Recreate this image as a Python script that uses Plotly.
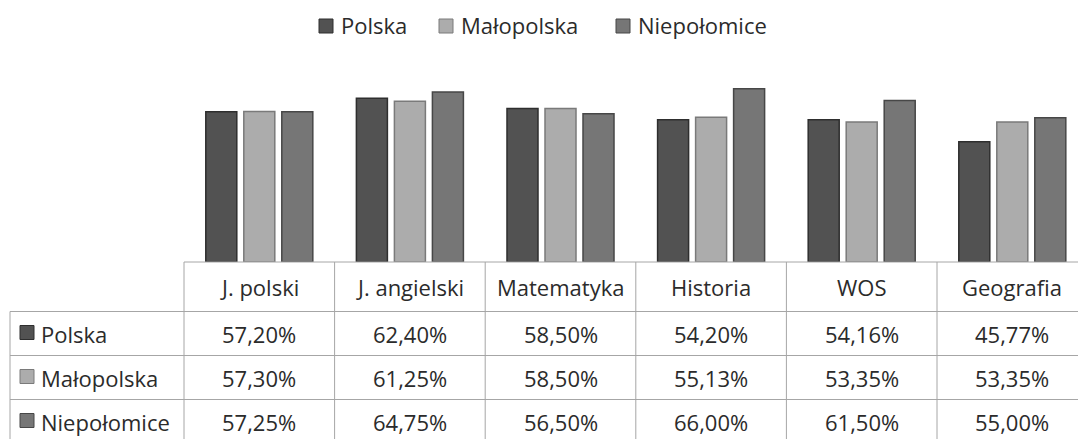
import plotly.graph_objects as go

# ---------------- data ----------------
categories = ["J. polski", "J. angielski", "Matematyka", "Historia", "WOS", "Geografia"]
series_names = ["Polska", "Małopolska", "Niepołomice"]
polska = [57.20, 62.40, 58.50, 54.20, 54.16, 45.77]
malopolska = [57.30, 61.25, 58.50, 55.13, 53.35, 53.35]
niepolomice = [57.25, 64.75, 56.50, 66.00, 61.50, 55.00]
series_values = [polska, malopolska, niepolomice]

# ---------------- styles ----------------
fill_colors = ["#525252", "#acacac", "#767676"]
edge_colors = ["#2e2e2e", "#7a7a7a", "#474747"]
grid_color = "#a6a6a6"
text_color = "#2b2b2b"
FONT = "Open Sans"
FS = 22

W, H = 1078, 439
ML, MR, MT, MB = 184, 0, 40, 177
col_px = 150.6
plot_w = W - ML - MR
plot_h = H - MT - MB
x0 = -0.5
x1 = x0 + plot_w / col_px
px_per_unit = 2.625
ymax = plot_h / px_per_unit


def px_x(px):
    return (px - ML) / plot_w


def px_y(py):
    return (H - MB - py) / plot_h


def data_x(v):
    return (v - x0) / (x1 - x0)


def fmt(v):
    return f"{v:.2f}".replace(".", ",") + "%"


fig = go.Figure()
for name, vals, fc, ec in zip(series_names, series_values, fill_colors, edge_colors):
    fig.add_trace(go.Bar(
        x=categories, y=vals, name=name,
        marker=dict(color=fc, line=dict(color=ec, width=1.5)),
        showlegend=False, hoverinfo="skip",
    ))

shapes = []
annotations = []

# table geometry (pixels)
top_px = H - MB          # axis baseline / table top
header_bottom = 311.5
row_h = 44
row_lines = [header_bottom + i * row_h for i in range(4)]
table_bottom = row_lines[-1]
left_px = 10

line = dict(color=grid_color, width=1)
shapes.append(dict(type="line", xref="paper", yref="paper",
                   x0=0, x1=1, y0=px_y(top_px), y1=px_y(top_px), line=line))
for r in row_lines:
    shapes.append(dict(type="line", xref="paper", yref="paper",
                       x0=px_x(left_px), x1=1, y0=px_y(r), y1=px_y(r), line=line))
for k in range(len(categories) + 1):
    xb = data_x(k - 0.5)
    if xb <= 1.0:
        shapes.append(dict(type="line", xref="paper", yref="paper",
                           x0=xb, x1=xb, y0=px_y(top_px), y1=px_y(table_bottom), line=line))
shapes.append(dict(type="line", xref="paper", yref="paper",
                   x0=px_x(left_px), x1=px_x(left_px),
                   y0=px_y(header_bottom), y1=px_y(table_bottom), line=line))

# header labels
for i, c in enumerate(categories):
    annotations.append(dict(x=data_x(i), y=px_y((top_px + header_bottom) / 2),
                            xref="paper", yref="paper", text=c, showarrow=False,
                            font=dict(family=FONT, size=FS, color=text_color),
                            xanchor="center", yanchor="middle"))

# rows
for j, (name, vals) in enumerate(zip(series_names, series_values)):
    cy = (row_lines[j] + row_lines[j + 1]) / 2
    shapes.append(dict(type="rect", xref="paper", yref="paper",
                       x0=px_x(20), x1=px_x(34), y0=px_y(cy + 6), y1=px_y(cy - 8),
                       fillcolor=fill_colors[j], line=dict(color=edge_colors[j], width=1)))
    annotations.append(dict(x=px_x(39), y=px_y(cy), xref="paper", yref="paper",
                            text=name, showarrow=False,
                            font=dict(family=FONT, size=FS, color=text_color),
                            xanchor="left", yanchor="middle"))
    for i, v in enumerate(vals):
        annotations.append(dict(x=data_x(i), y=px_y(cy), xref="paper", yref="paper",
                                text=fmt(v), showarrow=False,
                                font=dict(family=FONT, size=FS, color=text_color),
                                xanchor="center", yanchor="middle"))

# top legend
legend_items = [(319, 339), (439, 459), (616, 636)]
for (sq, tx), name, fc, ec in zip(legend_items, series_names, fill_colors, edge_colors):
    shapes.append(dict(type="rect", xref="paper", yref="paper",
                       x0=px_x(sq), x1=px_x(sq + 14), y0=px_y(33), y1=px_y(19),
                       fillcolor=fc, line=dict(color=ec, width=1)))
    annotations.append(dict(x=px_x(tx), y=px_y(25), xref="paper", yref="paper",
                            text=name, showarrow=False,
                            font=dict(family=FONT, size=FS, color=text_color),
                            xanchor="left", yanchor="middle"))

fig.update_layout(
    width=W, height=H,
    margin=dict(l=ML, r=MR, t=MT, b=MB, pad=0),
    paper_bgcolor="white", plot_bgcolor="white",
    barmode="group", bargap=0.243, bargroupgap=0.184,
    xaxis=dict(range=[x0, x1], showticklabels=False, showgrid=False,
               zeroline=False, showline=False, ticks="", fixedrange=True),
    yaxis=dict(range=[0, ymax], showticklabels=False, showgrid=False,
               zeroline=False, showline=False, ticks="", fixedrange=True),
    shapes=shapes, annotations=annotations,
    font=dict(family=FONT, size=FS, color=text_color),
)

fig.write_html("out.html",
               config={"displayModeBar": False},
               post_script="document.body.style.margin='0';document.body.style.padding='0';")
